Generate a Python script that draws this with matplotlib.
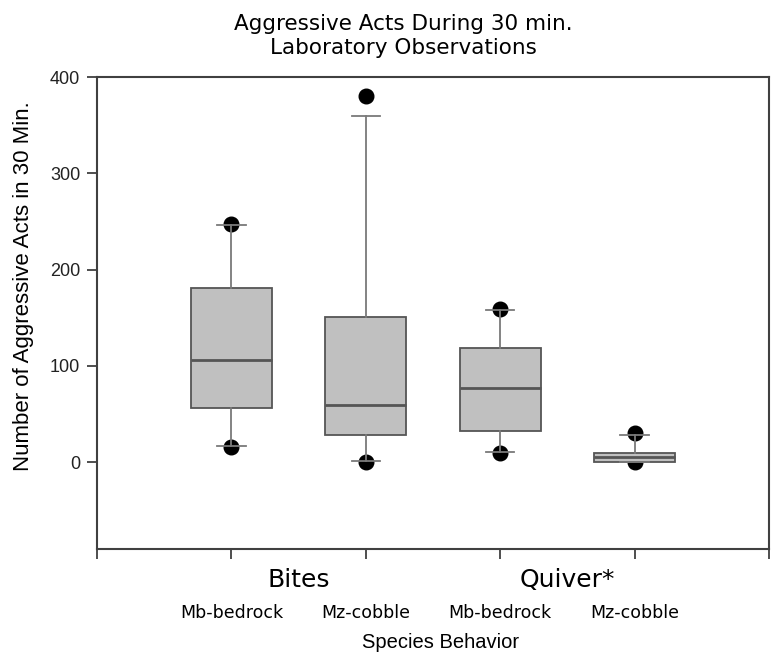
import matplotlib
matplotlib.use("Agg")
import matplotlib.pyplot as plt

# box statistics (whiskers / box / median / dots)
groups = ["Mb-bedrock", "Mz-cobble", "Mb-bedrock", "Mz-cobble"]
behaviors = ["Bites", "Quiver*"]
q1 = [56, 28, 33, 0.5]
med = [106, 59, 77, 5]
q3 = [181, 151, 119, 9.5]
whis_lo = [17, 1, 11, 0.5]
whis_hi = [246, 359, 158, 28]
dot_lo = [16, 0, 10, 0]
dot_hi = [247, 380, 159, 30]

stats = []
for i in range(len(groups)):
    stats.append({"q1": q1[i], "med": med[i], "q3": q3[i],
                  "whislo": whis_lo[i], "whishi": whis_hi[i],
                  "fliers": [dot_lo[i], dot_hi[i]]})

fig = plt.figure(figsize=(7.71, 6.54), dpi=100)
ax = fig.add_axes([97 / 771, 1 - 549 / 654, (769 - 97) / 771, (549 - 77) / 654])

positions = [1, 2, 3, 4]
bp = ax.bxp(stats, positions=positions, widths=0.6, capwidths=0.21,
            patch_artist=True, showfliers=True,
            boxprops=dict(facecolor="#c0c0c0", edgecolor="#555555", linewidth=1.3),
            medianprops=dict(color="#555555", linewidth=2),
            whiskerprops=dict(color="#7a7a7a", linewidth=1.3),
            capprops=dict(color="#7a7a7a", linewidth=1.3),
            flierprops=dict(marker="o", markerfacecolor="black", markeredgecolor="black",
                            markersize=10.5, linestyle="none"))
for f in bp["fliers"]:
    f.set_zorder(1.5)

ax.set_xlim(0, 5)
ax.set_ylim(-90, 400)
ax.set_xticks([0, 1, 2, 3, 4, 5])
ax.set_xticklabels([])
ax.set_yticks([0, 100, 200, 300, 400])
ax.tick_params(direction="out", length=7, width=1.3, color="#404040")
ax.tick_params(axis="y", labelsize=13, labelcolor="#222222", pad=5)
for lab in ax.get_yticklabels():
    lab.set_family("Liberation Sans")
for sp in ax.spines.values():
    sp.set_color("#404040")
    sp.set_linewidth(1.5)

# group labels under the axis
for j, name in enumerate(behaviors):
    ax.text(1.5 + 2 * j, -0.066, name, transform=ax.get_xaxis_transform(),
            ha="center", va="center", fontsize=18, family="DejaVu Sans")
for p, g in zip(positions, groups):
    ax.text(p, -0.135, g, transform=ax.get_xaxis_transform(),
            ha="center", va="center", fontsize=12.5, family="DejaVu Sans")

fig.text(441 / 771, 1 - 643 / 654, "Species Behavior", ha="center", va="center",
         fontsize=14.5, family="Liberation Sans")
fig.text(24 / 771, 1 - 286 / 654, "Number of Aggressive Acts in 30 Min.", rotation=90,
         ha="center", va="center", fontsize=16, family="Liberation Sans")
fig.text(403 / 771, 1 - 36 / 654, "Aggressive Acts During 30 min.\nLaboratory Observations",
         ha="center", va="center", fontsize=15.5, family="DejaVu Sans", linespacing=1.3)

fig.savefig("out.png", dpi=100)
